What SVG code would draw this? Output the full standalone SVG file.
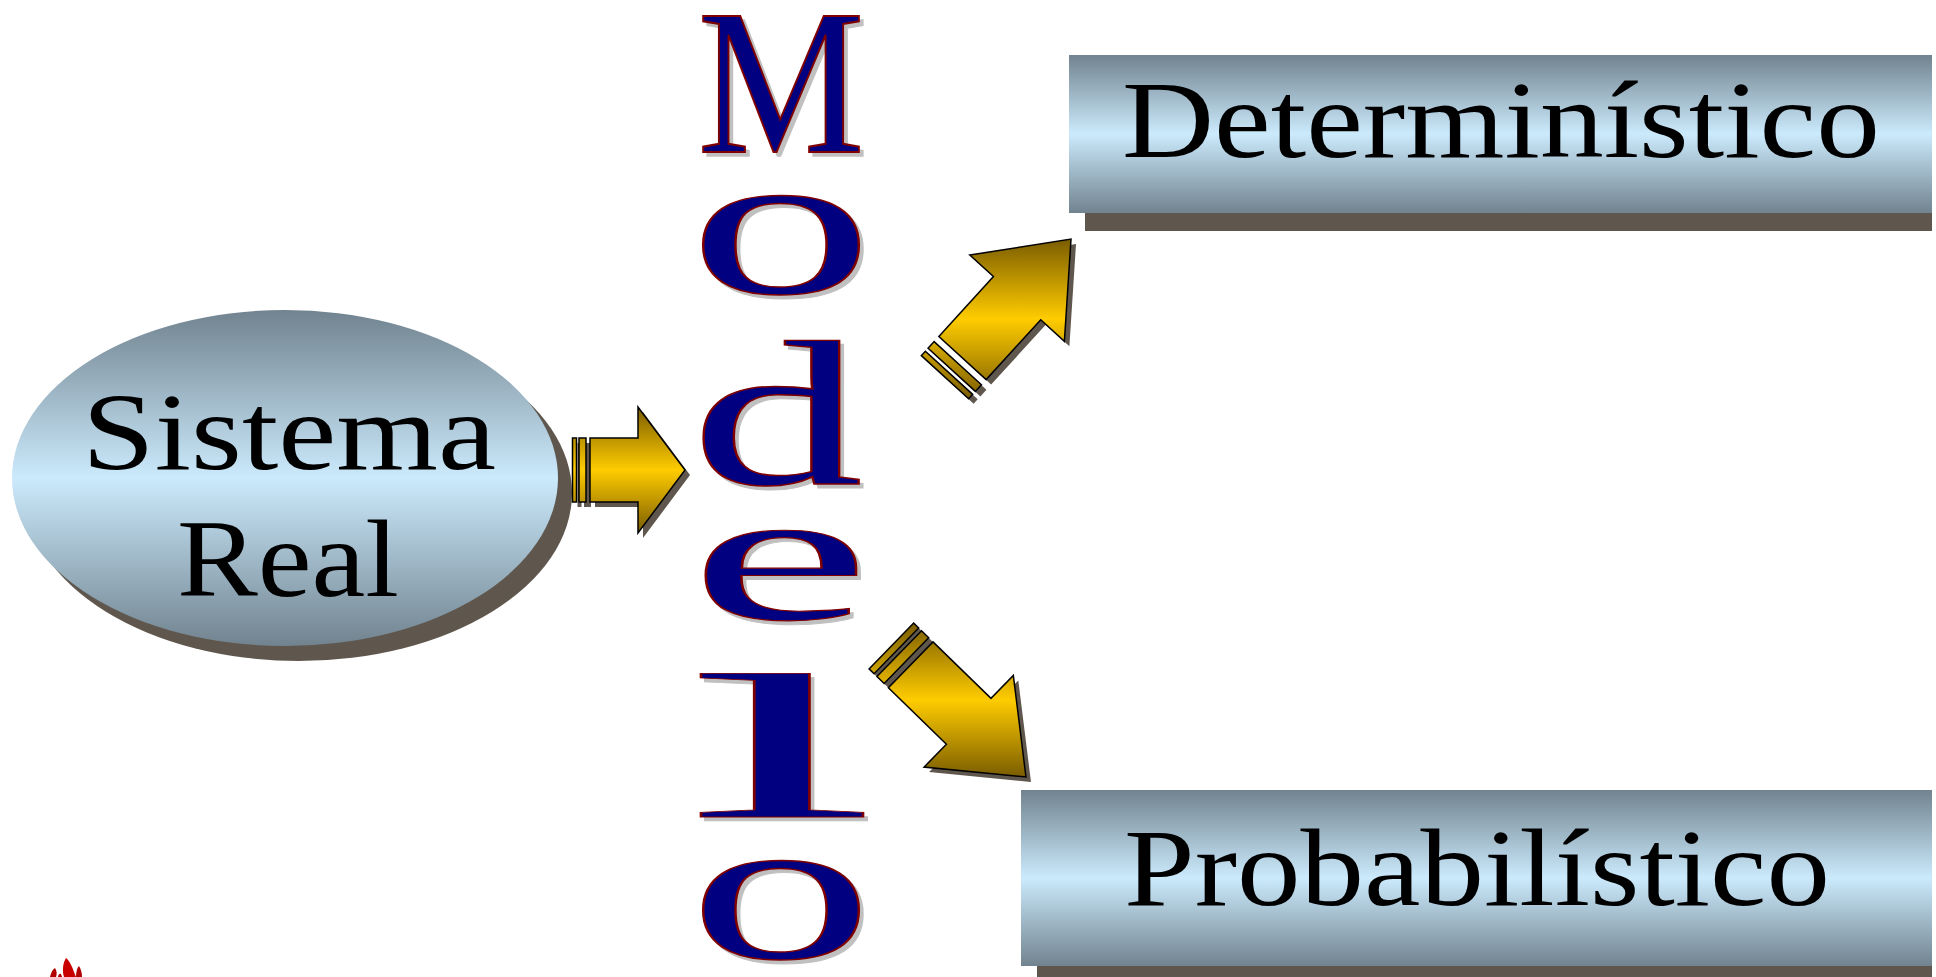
<svg xmlns="http://www.w3.org/2000/svg" width="1936" height="977" viewBox="0 0 1936 977">
<defs>
<linearGradient id="gBlue" x1="0" y1="0" x2="0" y2="1">
<stop offset="0" stop-color="#71838f"/>
<stop offset="0.5" stop-color="#cbeafc"/>
<stop offset="1" stop-color="#71838f"/>
</linearGradient>
<linearGradient id="gArrH" gradientUnits="userSpaceOnUse" x1="0" y1="407" x2="0" y2="533">
<stop offset="0" stop-color="#7a5c00"/>
<stop offset="0.5" stop-color="#ffcc00"/>
<stop offset="1" stop-color="#7a5c00"/>
</linearGradient>
<linearGradient id="gArrU" gradientUnits="userSpaceOnUse" x1="0" y1="239" x2="0" y2="399">
<stop offset="0" stop-color="#7a5c00"/>
<stop offset="0.5" stop-color="#ffcc00"/>
<stop offset="1" stop-color="#7a5c00"/>
</linearGradient>
<linearGradient id="gArrD" gradientUnits="userSpaceOnUse" x1="0" y1="623" x2="0" y2="777">
<stop offset="0" stop-color="#7a5c00"/>
<stop offset="0.5" stop-color="#ffcc00"/>
<stop offset="1" stop-color="#7a5c00"/>
</linearGradient>
</defs>
<style>
.shadow{fill:#5f574d}
.arr{stroke:#000;stroke-width:1.5}
.lbl{font-family:"Liberation Serif","Times New Roman",serif;font-size:110px;fill:#000}
.big{font-family:"Liberation Serif","Times New Roman",serif;font-size:207px;text-anchor:middle}
.sh{fill:#c0c0c0;stroke:#c0c0c0;stroke-width:1.5;vector-effect:non-scaling-stroke}
.fg{fill:#000080;stroke:#800000;stroke-width:2;vector-effect:non-scaling-stroke}
.logo{fill:#b00000}
</style>
<rect width="1936" height="977" fill="#ffffff"/>

<g id="sistema-real">
<ellipse class="shadow" cx="299" cy="493" rx="273" ry="168"/>
<ellipse cx="285" cy="478" rx="273" ry="168" fill="url(#gBlue)"/>
<text class="lbl" x="82" y="469" textLength="414" lengthAdjust="spacingAndGlyphs">Sistema</text>
<text class="lbl" x="177" y="596" textLength="222" lengthAdjust="spacingAndGlyphs">Real</text>
</g>

<g id="modelo" class="big">
<text class="sh" transform="translate(785,156) scale(0.905,1)">M</text>
<text class="fg" transform="translate(781,152) scale(0.905,1)">M</text>
<text class="sh" transform="translate(785,297) scale(1.774,1)">o</text>
<text class="fg" transform="translate(781,293) scale(1.774,1)">o</text>
<text class="sh" transform="translate(781,488) scale(1.658,1)">d</text>
<text class="fg" transform="translate(777,484) scale(1.658,1)">d</text>
<text class="sh" transform="translate(784,623) scale(1.961,0.91)">e</text>
<text class="fg" transform="translate(780,619) scale(1.961,0.91)">e</text>
<text class="sh" transform="translate(786,821) scale(3.29,1)">l</text>
<text class="fg" transform="translate(782,817) scale(3.29,1)">l</text>
<text class="sh" transform="translate(785,962) scale(1.774,1)">o</text>
<text class="fg" transform="translate(781,958) scale(1.774,1)">o</text>
</g>

<g id="deterministico">
<rect class="shadow" x="1085" y="73" width="847" height="158"/>
<rect x="1069" y="55" width="863" height="158" fill="url(#gBlue)"/>
<text class="lbl" x="1122" y="157" textLength="758" lengthAdjust="spacingAndGlyphs">Determinístico</text>
</g>

<g id="probabilistico">
<rect class="shadow" x="1037" y="806" width="895" height="176"/>
<rect x="1021" y="790" width="911" height="176" fill="url(#gBlue)"/>
<text class="lbl" x="1124" y="905" textLength="706" lengthAdjust="spacingAndGlyphs">Probabilístico</text>
</g>

<g id="connectors">
<g id="arrow-real-modelo">
<g class="shadow" transform="translate(5,5)">
<polygon points="590,438 638,438 638,407 685,470 638,533 638,502 590,502"/>
<rect x="579" y="438" width="7" height="64"/>
<rect x="572.5" y="438" width="4" height="64"/>
</g>
<g class="arr" fill="url(#gArrH)">
<polygon points="590,438 638,438 638,407 685,470 638,533 638,502 590,502"/>
<rect x="579" y="438" width="7" height="64"/>
<rect x="572.5" y="438" width="4" height="64"/>
</g>
</g>
<g id="arrow-modelo-deterministico">
<g class="shadow" transform="translate(5,5)">
<polygon points="938.85,336.43 993.44,276.57 969.79,255.00 1071.01,239.02 1064.39,341.28 1040.74,319.71 986.15,379.57"/>
<polygon points="981.43,384.74 934.13,341.60 928.07,348.25 975.37,391.39"/>
<polygon points="972.67,394.35 925.37,351.21 921.33,355.64 968.63,398.78"/>
</g>
<g class="arr" fill="url(#gArrU)">
<polygon points="938.85,336.43 993.44,276.57 969.79,255.00 1071.01,239.02 1064.39,341.28 1040.74,319.71 986.15,379.57"/>
<polygon points="981.43,384.74 934.13,341.60 928.07,348.25 975.37,391.39"/>
<polygon points="972.67,394.35 925.37,351.21 921.33,355.64 968.63,398.78"/>
</g>
</g>
<g id="arrow-modelo-probabilistico">
<g class="shadow" transform="translate(5,5)">
<polygon points="933.00,641.89 991.00,698.35 1013.31,675.44 1025.98,777.02 924.09,767.08 946.40,744.17 888.40,687.71"/>
<polygon points="928.70,637.71 884.10,683.53 876.94,676.56 921.54,630.74"/>
<polygon points="918.68,627.95 874.08,673.77 869.07,668.89 913.67,623.07"/>
</g>
<g class="arr" fill="url(#gArrD)">
<polygon points="933.00,641.89 991.00,698.35 1013.31,675.44 1025.98,777.02 924.09,767.08 946.40,744.17 888.40,687.71"/>
<polygon points="928.70,637.71 884.10,683.53 876.94,676.56 921.54,630.74"/>
<polygon points="918.68,627.95 874.08,673.77 869.07,668.89 913.67,623.07"/>
</g>
</g>
</g>

<g id="logo-fragment">
<path d="M64,977 C62,970 63,963 66,958 C69,960 72,966 74,972 L76,977 Z" fill="#c80000"/>
<path class="logo" d="M50,977 C51,972 53,969 55,968 C57,971 57,974 56,977 Z"/>
<path class="logo" d="M76,977 C76,972 77,968 79,966 C81,969 82,973 82,977 Z"/>
<path class="logo" d="M58,977 C58,975 60,973 61,974 L62,977 Z"/>
</g>
</svg>
